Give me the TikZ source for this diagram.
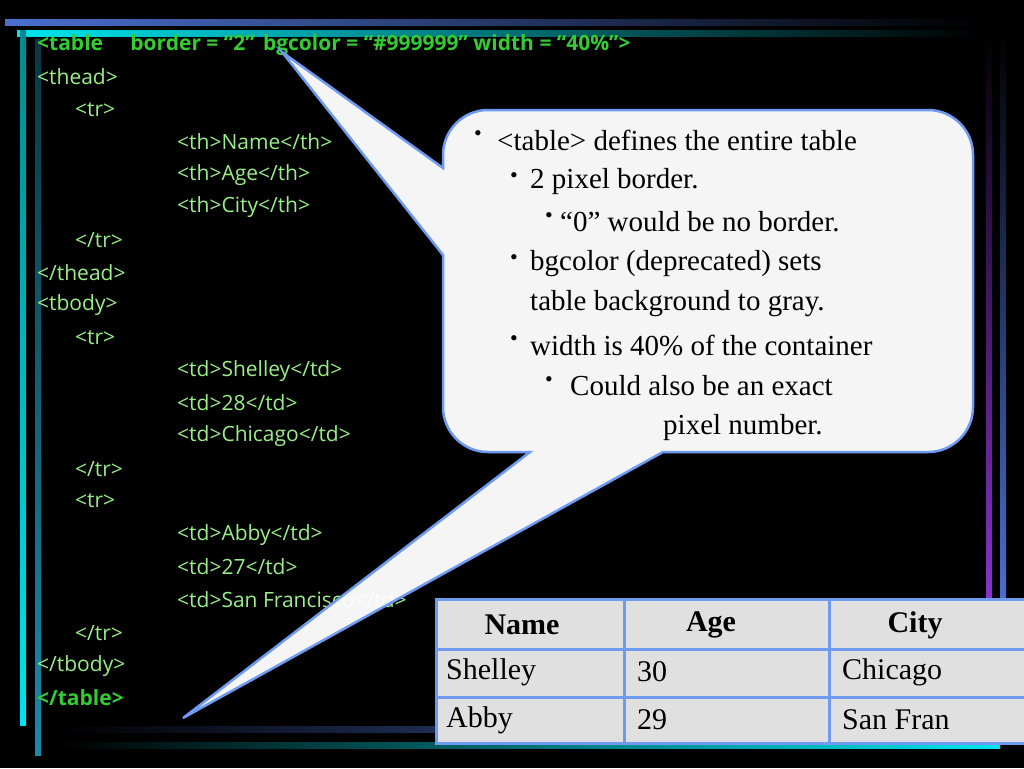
\documentclass[tikz,border=0pt]{standalone}
\usepackage{fontspec}
\setmainfont{Liberation Serif}
\newfontfamily\codefont{Open Sans}
\begin{document}
\begin{tikzpicture}[x=1pt,y=-1pt,
  code/.style={anchor=west,inner sep=0pt,text=codegreen,font=\codefont\fontsize{21}{21}\selectfont},
  codeb/.style={code,text=boldgreen,font=\codefont\bfseries\fontsize{21}{21}\selectfont},
  ct/.style={anchor=west,inner sep=0pt,font=\fontsize{29}{29}\selectfont},
  bul/.style={anchor=center,inner sep=0pt,font=\fontsize{22}{22}\selectfont},
  cell/.style={draw=cellblue,line width=3pt,fill=cellgray},
  th/.style={inner sep=0pt,font=\bfseries\fontsize{30}{30}\selectfont},
  td/.style={anchor=west,inner sep=0pt,font=\fontsize{30}{30}\selectfont}]
\definecolor{codegreen}{HTML}{99EE88}
\definecolor{boldgreen}{HTML}{33CC33}
\definecolor{cellblue}{HTML}{6E9AF0}
\definecolor{cellgray}{HTML}{E0E0E0}
\definecolor{barblue}{HTML}{4A6FCF}
\definecolor{barcyan}{HTML}{00E5EE}
\definecolor{barteal}{HTML}{1A8AA8}
\definecolor{barpurple}{HTML}{8833CC}
\fill[black] (0,0) rectangle (1024,768);
\useasboundingbox (0,0) rectangle (1024,768);
% decorative bars
\shade[left color=barblue,right color=black] (5,20) rectangle (980,26);
\shade[left color=barcyan,right color=black] (17,31) rectangle (980,37);
\shade[top color=barcyan!60!black,bottom color=barcyan] (20,31) rectangle (26,725);
\shade[top color=barteal!40!black,bottom color=barteal] (35,40) rectangle (41,755);
\shade[left color=black,right color=barblue] (60,726) rectangle (1000,732);
\shade[left color=black,right color=barcyan] (60,742) rectangle (1000,748);
\shade[top color=black,bottom color=barpurple] (986,30) rectangle (992,600);
\shade[top color=black,bottom color=barblue] (1000,30) rectangle (1006,600);
% code
\node[codeb] (l1) at (37,45) {<table\hspace{1.3em}border = “2”\hspace{0.4em}bgcolor = “\#999999” width = “40\%”>};
\node[code] (l2) at (37,77) {<thead>};
\node[code] (l3) at (75,110) {<tr>};
\node[code] (l4) at (177,142) {<th>Name</th>};
\node[code] (l5) at (177,175) {<th>Age</th>};
\node[code] (l6) at (177,207) {<th>City</th>};
\node[code] (l7) at (75,240) {</tr>};
\node[code] (l8) at (37,273) {</thead>};
\node[code] (l9) at (37,305) {<tbody>};
\node[code] (l10) at (75,338) {<tr>};
\node[code] (l11) at (177,371) {<td>Shelley</td>};
\node[code] (l12) at (177,403) {<td>28</td>};
\node[code] (l13) at (177,436) {<td>Chicago</td>};
\node[code] (l14) at (75,469) {</tr>};
\node[code] (l15) at (75,501) {<tr>};
\node[code] (l16) at (177,535) {<td>Abby</td>};
\node[code] (l17) at (177,567) {<td>27</td>};
\node[code] (l18) at (177,600) {<td>San Francisco</td>};
\node[code] (l19) at (75,633) {</tr>};
\node[code] (l20) at (37,666) {</tbody>};
\node[codeb] (l21) at (37,698) {</table>};
% callout
\coordinate (tipA) at (282,52);
\coordinate (tipB) at (183,718);
\draw[cellblue,line width=2.5pt,fill=white,fill opacity=0.96,line join=miter]
  (443,255) [rounded corners=45pt] -- (443,452) [sharp corners] -- (530,452) -- (tipB) -- (663,452)
  [rounded corners=45pt] -- (973,452) -- (973,110) -- (443,110) [sharp corners] -- (443,168) -- (tipA) -- cycle;
\node[bul] (b1) at (478,136) {•};
\node[ct] (t1) at (497,140) {<table> defines the entire table};
\node[bul] (b2) at (514,178) {•};
\node[ct] (t2) at (530,182) {2 pixel border.};
\node[bul] (b3) at (549,218) {•};
\node[ct] (t3) at (560,222) {“0” would be no border.};
\node[bul] (b4) at (514,260) {•};
\node[ct] (t4) at (530,264) {bgcolor (deprecated) sets};
\node[ct] (t5) at (530,304) {table background to gray.};
\node[bul] (b6) at (514,341) {•};
\node[ct] (t6) at (530,345) {width is 40\% of the container};
\node[bul] (b7) at (549,382) {•};
\node[ct] (t7) at (570,386) {Could also be an exact};
\node[ct] (t8) at (663,428) {pixel number.};
% table
\node[cell,minimum width=188pt,minimum height=50pt,anchor=north west,inner sep=0pt] (c11) at (435,598) {};
\node[cell,minimum width=205pt,minimum height=50pt,anchor=north west,inner sep=0pt] (c12) at (623,598) {};
\node[cell,minimum width=200pt,minimum height=50pt,anchor=north west,inner sep=0pt] (c13) at (828,598) {};
\node[cell,minimum width=188pt,minimum height=48pt,anchor=north west,inner sep=0pt] (c21) at (435,648) {};
\node[cell,minimum width=205pt,minimum height=48pt,anchor=north west,inner sep=0pt] (c22) at (623,648) {};
\node[cell,minimum width=200pt,minimum height=48pt,anchor=north west,inner sep=0pt] (c23) at (828,648) {};
\node[cell,minimum width=188pt,minimum height=46pt,anchor=north west,inner sep=0pt] (c31) at (435,696) {};
\node[cell,minimum width=205pt,minimum height=46pt,anchor=north west,inner sep=0pt] (c32) at (623,696) {};
\node[cell,minimum width=200pt,minimum height=46pt,anchor=north west,inner sep=0pt] (c33) at (828,696) {};
\node[th] (h1) at (522,625) {Name};
\node[th] (h2) at (711,625) {Age};
\node[th] (h3) at (915,625) {City};
\node[td] (d11) at (446,672) {Shelley};
\node[td] (d12) at (637,672) {30};
\node[td] (d13) at (842,672) {Chicago};
\node[td] (d21) at (446,720) {Abby};
\node[td] (d22) at (637,720) {29};
\node[td] (d23) at (842,720) {San Fran};
\end{tikzpicture}
\end{document}
